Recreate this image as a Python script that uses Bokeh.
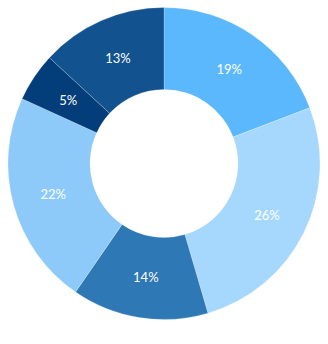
import math
from bokeh.plotting import figure
from bokeh.models import ColumnDataSource
from bokeh.core.properties import value
from bokeh.embed import file_html
from bokeh.resources import INLINE

labels = ["19%", "26%", "14%", "22%", "5%", "13%"]
values = [19, 26, 14, 22, 5, 13]
colors = ["#5cb8fc", "#a6d8fd", "#2e78b5", "#8dcafa", "#033e7a", "#12538f"]

W, H = 328, 344
cx, cy = 163.5, H - 163
r_in, r_out = 74, 156

total = sum(values)
starts, ends, lx, ly = [], [], [], []
cum = 0
for v in values:
    a0 = math.pi / 2 - 2 * math.pi * cum / total
    cum += v
    a1 = math.pi / 2 - 2 * math.pi * cum / total
    starts.append(a1)
    ends.append(a0)
    mid = (a0 + a1) / 2
    rl = (r_in + r_out) / 2
    lx.append(cx + rl * math.cos(mid))
    ly.append(cy + rl * math.sin(mid))

src = ColumnDataSource(dict(start=starts, end=ends, color=colors, label=labels,
                            lx=lx, ly=ly, x=[cx] * len(values), y=[cy] * len(values)))

p = figure(width=W, height=H, x_range=(0, W), y_range=(0, H),
           output_backend="svg", toolbar_location=None, min_border=0)
p.axis.visible = False
p.grid.visible = False
p.outline_line_color = None
p.background_fill_color = "white"

p.annular_wedge(x="x", y="y", inner_radius=r_in, outer_radius=r_out,
                start_angle="start", end_angle="end", fill_color="color",
                line_color="white", line_width=0.6, line_alpha=0.35, source=src)

p.text(x="lx", y="ly", text="label", source=src, text_color="white",
       text_align="center", text_baseline="middle", text_font_size="13px",
       text_font=value("Lato"))

open("out.html", "w").write(file_html(p, INLINE))
